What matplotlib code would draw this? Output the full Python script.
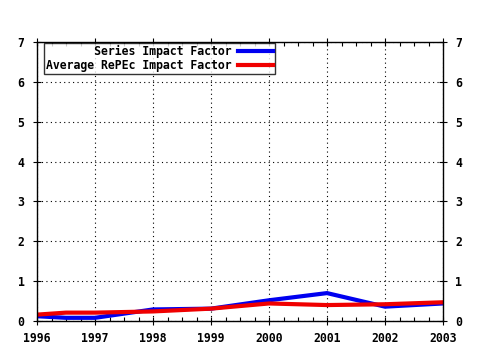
import matplotlib
matplotlib.use("Agg")
import matplotlib.pyplot as plt
from matplotlib.ticker import MultipleLocator
from matplotlib.font_manager import FontProperties

years = [1996, 1996.5, 1997, 1998, 1999, 2000, 2001, 2002, 2003]
series_if = [0.12, 0.08, 0.08, 0.29, 0.31, 0.52, 0.70, 0.36, 0.44]
average_if = [0.16, 0.21, 0.21, 0.24, 0.31, 0.44, 0.40, 0.42, 0.47]
xticks = [1996, 1997, 1998, 1999, 2000, 2001, 2002, 2003]
yticks = [0, 1, 2, 3, 4, 5, 6, 7]
labels = ["Series Impact Factor", "Average RePEc Impact Factor"]

fp = FontProperties(family="DejaVu Sans Mono", weight="bold", size=8.3)

fig = plt.figure(figsize=(4.8, 3.5), dpi=100)
ax = fig.add_axes([37/480, 1 - 321/350, (443-37)/480, (321-42)/350])

width = max(len(s) for s in labels)
ax.plot(years, series_if, color="#0000f0", lw=3, label=labels[0].rjust(width))
ax.plot(years, average_if, color="#f00000", lw=3, label=labels[1].rjust(width))

ax.set_xlim(1996, 2003)
ax.set_ylim(0, 7)
ax.set_xticks(xticks)
ax.set_yticks(yticks)
ax.xaxis.set_minor_locator(MultipleLocator(0.25))
ax.grid(True, which="major", color="black", linestyle=(0, (1, 3)), linewidth=0.8)
ax.tick_params(axis="both", which="major", direction="inout", length=6, width=0.8,
               top=True, right=True, labelright=True)
ax.tick_params(axis="x", which="minor", direction="in", length=3, width=0.8, top=True)
ax.set_xticklabels([str(y) for y in xticks])
ax.set_yticklabels([str(y) for y in yticks])
for t in ax.xaxis.get_major_ticks():
    t.label1.set_fontproperties(fp)
for t in ax.yaxis.get_major_ticks():
    t.label1.set_fontproperties(fp)
    t.label2.set_fontproperties(fp)
ax.tick_params(axis="y", pad=6)
ax.tick_params(axis="x", pad=5)
for sp in ax.spines.values():
    sp.set_linewidth(1)

leg = ax.legend(loc="upper left", bbox_to_anchor=(7/406, 1.0 - 1/279), markerfirst=False,
                prop=fp, frameon=True, fancybox=False,
                borderpad=0.2, labelspacing=0.05, handlelength=3.0, handletextpad=0.55,
                borderaxespad=0.0)
leg.get_frame().set_edgecolor("black")
leg.get_frame().set_linewidth(1)

fig.savefig("out.png", dpi=100)
